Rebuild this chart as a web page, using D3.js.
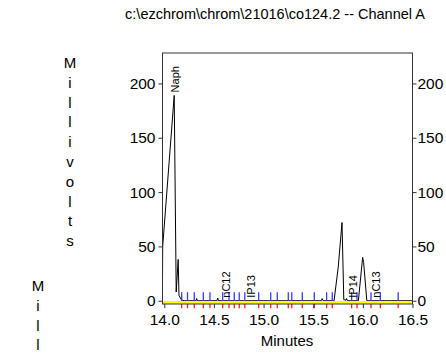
<!DOCTYPE html>
<html><head><meta charset="utf-8">
<script src="https://cdn.jsdelivr.net/npm/d3@7/dist/d3.min.js"></script>
<style>
body{margin:0;background:#fff;}
svg{display:block;font-family:"Liberation Sans",Arial,Helvetica,sans-serif;}
</style></head><body>
<svg id="c" width="446" height="357"></svg>
<script>
// ---- data ----
const title = "c:\\ezchrom\\chrom\\21016\\co124.2 -- Channel A";
const xTicks = [14.0, 14.5, 15.0, 15.5, 16.0, 16.5];
const yTicks = [0, 50, 100, 150, 200];
const traceTime  = [13.982, 13.984, 14.100, 14.120, 14.140, 14.148, 14.170, 14.200, 14.320, 14.326, 14.334, 14.530, 14.538, 14.546, 15.580, 15.590, 15.600, 15.710, 15.752, 15.790, 15.808, 15.830, 15.836, 15.845, 15.955, 15.998, 16.008, 16.040, 16.500];
const traceValue = [19,     50,     189,    8,      38,     5,      1,      0,      0,      2,      0,      0,      2.5,    0,      0,      2,      0,      0,      31,     72,     1,      0.5,    2,      0,      0,      40,     35,     0,      0];
const peakNames  = ["Naph", "nC12", "IP13", "IP14", "nC13"];
const peakTimes  = [14.105, 14.618, 14.870, 15.903, 16.128];
const peakLabelValues = [189, 0, 0, 0, 0];
const markerTimes = [14.175, 14.234, 14.302, 14.393, 14.460, 14.588, 14.652, 14.705, 14.755, 14.811, 14.951, 15.072, 15.138, 15.249, 15.284, 15.390, 15.511, 15.635, 15.692, 15.887, 15.941, 16.082, 16.176, 16.356];
const axisTitleX = "Minutes";
const axisTitleY = "Millivolts";

// ---- layout ----
const svg = d3.select("#c");
const L = 162.5, R = 412.5, T = 53, B = 304;
const x = d3.scaleLinear().domain([13.982, 16.5]).range([L, R]);
const y = d3.scaleLinear().domain([-3, 228]).range([B, T]);
const font = 15.5;

// title
svg.append("text").attr("x", 275).attr("y", 19).attr("text-anchor", "middle")
  .attr("font-size", 14.5).attr("fill", "#000").text(title);

// trace
const pts = traceTime.map((t, i) => [t, traceValue[i]]);
svg.append("path").datum(pts)
  .attr("d", d3.line().x(d => x(d[0])).y(d => y(d[1])))
  .attr("fill", "none").attr("stroke", "#000").attr("stroke-width", 1);

// baseline markers
const mk = svg.append("g");
markerTimes.forEach(t => {
  mk.append("line").attr("x1", x(t)).attr("x2", x(t)).attr("y1", y(0) - 8.5).attr("y2", y(0) + 1)
    .attr("stroke", "#3a3aff").attr("stroke-width", 1.3);
  mk.append("line").attr("x1", x(t)).attr("x2", x(t)).attr("y1", y(0) + 1).attr("y2", y(0) + 7.5)
    .attr("stroke", "#ff2020").attr("stroke-width", 1.3);
});

// yellow baseline
svg.append("line").attr("x1", L).attr("x2", R).attr("y1", y(-1.6)).attr("y2", y(-1.6))
  .attr("stroke", "#ffff00").attr("stroke-width", 3);

// peak labels
peakNames.forEach((n, i) => {
  const px = x(peakTimes[i]) + 4, py = y(peakLabelValues[i]) - 3;
  svg.append("text").attr("transform", `translate(${px},${py}) rotate(-90)`)
    .attr("font-size", 11).attr("fill", "#000").text(n);
});

// frame
svg.append("rect").attr("x", L).attr("y", T).attr("width", R - L).attr("height", B - T)
  .attr("fill", "none").attr("stroke", "#333").attr("stroke-width", 1);

// axes
const ax = svg.append("g").attr("transform", `translate(0,${B})`)
  .call(d3.axisBottom(x).tickValues(xTicks).tickFormat(d3.format(".1f")).tickSize(4).tickPadding(6));
const ayl = svg.append("g").attr("transform", `translate(${L},0)`)
  .call(d3.axisLeft(y).tickValues(yTicks).tickSize(4).tickPadding(3));
const ayr = svg.append("g").attr("transform", `translate(${R},0)`)
  .call(d3.axisRight(y).tickValues(yTicks).tickSize(4).tickPadding(1));
[ax, ayl, ayr].forEach(g => {
  g.select(".domain").remove();
  g.selectAll("line").attr("stroke", "#333");
  g.selectAll("text").attr("font-size", font).attr("fill", "#000");
  g.attr("font-family", null);
});

// axis titles
svg.append("text").attr("x", 287).attr("y", 346).attr("text-anchor", "middle")
  .attr("font-size", 15).attr("fill", "#000").text(axisTitleX);
axisTitleY.split("").forEach((ch, i) => {
  svg.append("text").attr("x", 70).attr("y", 68 + i * 19.8).attr("text-anchor", "middle")
    .attr("font-size", 15).attr("fill", "#000").text(ch);
});
axisTitleY.slice(0, 4).split("").forEach((ch, i) => {
  svg.append("text").attr("x", 38).attr("y", 291 + i * 19.8).attr("text-anchor", "middle")
    .attr("font-size", 15).attr("fill", "#000").text(ch);
});
</script>
</body></html>
